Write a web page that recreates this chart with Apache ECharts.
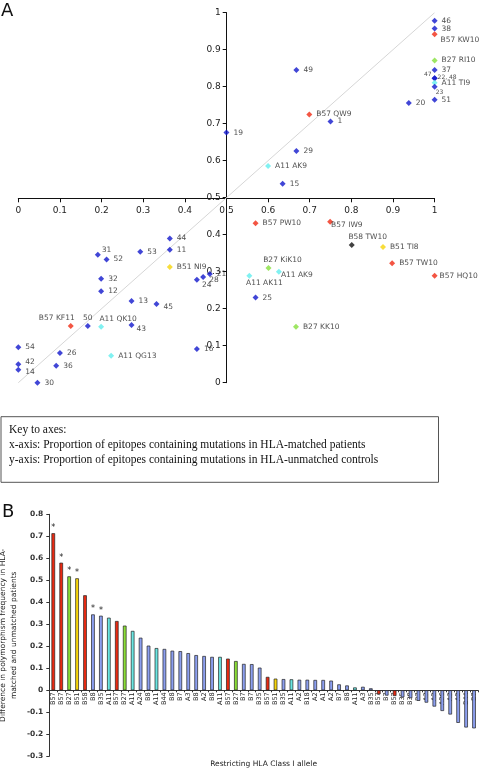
<!DOCTYPE html>
<html>
<head>
<meta charset="utf-8">
<script src="https://cdn.jsdelivr.net/npm/echarts@6/dist/echarts.min.js"></script>
<style>
html,body{margin:0;padding:0;background:#fff;}
#chart{width:480px;height:769px;}
</style>
</head>
<body>
<div id="chart"></div>
<script>
// ---------- Panel A data ----------
const scatterNames = ['46','38','B57 KW10','B27 RI10','37','47','22, 48','A11 TI9','23','51','20','49','B57 QW9','1','29','A11 AK9','15','19',
  '44','11','53','31','52','B51 NI9','32','12','24','28','21','13','45','B57 KF11','50','A11 QK10','43','54','26','42','14','36','30','A11 QG13','16',
  'B57 PW10','B57 IW9','B58 TW10','B51 TI8','B57 TW10','B57 HQ10','B27 KiK10','A11 AK9','A11 AK11','25','B27 KK10'];
const scatterX = [1.0,1.0,1.0,1.0,1.0,1.0,1.0,1.0,1.0,1.0,0.938,0.668,0.699,0.75,0.668,0.6,0.635,0.5,
  0.364,0.364,0.293,0.191,0.212,0.364,0.199,0.199,0.429,0.444,0.46,0.272,0.332,0.126,0.167,0.199,0.272,0,0.1,0,0,0.091,0.046,0.223,0.429,
  0.57,0.749,0.801,0.876,0.898,1.0,0.601,0.626,0.555,0.57,0.667];
const scatterY = [0.978,0.957,0.942,0.871,0.845,0.823,0.823,0.811,0.8,0.765,0.756,0.845,0.725,0.706,0.626,0.586,0.538,0.676,
  0.39,0.359,0.354,0.346,0.333,0.313,0.281,0.247,0.278,0.286,0.294,0.221,0.213,0.153,0.153,0.151,0.156,0.096,0.08,0.05,0.035,0.046,0,0.073,0.091,
  0.431,0.435,0.372,0.367,0.323,0.289,0.31,0.3,0.289,0.23,0.151];
const axisTicksA = [0,0.1,0.2,0.3,0.4,0.5,0.6,0.7,0.8,0.9,1];

// ---------- Panel B data ----------
const barAlleles = ['B57','B57','B27','B51','B58','B8','B35','A11','B57','B27','A11','A24','B8','A11','B44','B8','B7','A3','B8','A2','B8','A11','B57','B27','B7','B7','B35','B57','B51','B35','A11','A2','B18','A2','A1','A2','B7','B8','A11','A3','B35','B57','B7','B57','B35','B38','B7','A3','A2','A26','A3','A2','B44','B7'];
const barValues = [0.714,0.58,0.518,0.509,0.432,0.345,0.339,0.33,0.315,0.294,0.27,0.239,0.203,0.192,0.188,0.18,0.178,0.169,0.16,0.156,0.152,0.152,0.144,0.133,0.12,0.119,0.103,0.061,0.053,0.051,0.05,0.048,0.048,0.047,0.047,0.044,0.027,0.022,0.013,0.016,0.009,-0.018,-0.024,-0.026,-0.032,-0.036,-0.048,-0.056,-0.074,-0.094,-0.11,-0.148,-0.169,-0.173];
const starredBars = [0,1,2,3,5,6];
const barYMin = -0.3, barYMax = 0.8;

// ---------- styling helpers ----------
const FONT = 'DejaVu Sans';
function scatterColor(n){
  if(n.startsWith('B57')) return '#f02a14';
  if(n.startsWith('B27')) return '#86e03c';
  if(n.startsWith('A11')) return '#62eeee';
  if(n.startsWith('B51')) return '#f6d40a';
  if(n.startsWith('B58')) return '#111111';
  return '#1218cc';
}
function barColor(a){
  if(a==='B57'||a==='B58') return '#ea2a12';
  if(a==='B27') return '#8ade36';
  if(a==='B51') return '#f7d60a';
  if(a==='A11') return '#6ae6e2';
  return '#8c9ff0';
}
function placement(n, y){
  const m = {
    '47': {position:'left', distance:0, offset:[0,-4], fontSize:6},
    '22, 48': {position:'right', distance:0, offset:[0,-1], fontSize:6},
    '23': {position:'bottom', distance:0, offset:[5,0], fontSize:6},
    'B57 KW10': {offset:[-1,6]},
    '31': {offset:[-3,-5]},
    '24': {offset:[-2,5]},
    '28': {offset:[-1,3]},
    '45': {offset:[0,3]},
    'B57 KF11': {position:'top', distance:1, offset:[-14,0]},
    '50': {position:'top', distance:1},
    'A11 QK10': {position:'top', distance:1, offset:[17,0]},
    '43': {offset:[-2,4]},
    'B58 TW10': {position:'top', distance:1, offset:[16,0]},
    'B57 IW9': {offset:[-6,3]},
    'B27 KiK10': {position:'top', distance:1, offset:[14,0]},
    'A11 AK11': {position:'bottom', distance:0, offset:[15,0]},
    'B57 HQ10': {distance:2},
    '42': {offset:[0,-2]},
    '14': {offset:[0,2]}
  };
  if(n==='A11 AK9' && y<0.5) return {offset:[-5,3]};
  return m[n] || {};
}
const scatterData = scatterNames.map((n,i)=>{
  const p = placement(n, scatterY[i]);
  return {
    name:n, value:[scatterX[i], scatterY[i]],
    itemStyle:{color:scatterColor(n)},
    label:Object.assign({show:true, formatter:n, position:'right', distance:4, fontSize:7.5, color:'#222', fontFamily:FONT}, p)
  };
});
const fmt = v => String(Number(v.toFixed(1)));

// bar grid geometry: top at 0.8, bottom at -0.3; the category axis sits in a second grid ending at the zero line
const barTop = 514.3, barH = 242;
const pxPerUnit = barH / (barYMax - barYMin);
const zeroY = barTop + pxPerUnit * barYMax;
// label-only value axis reaching one step further down, so -0.3 is not its end label
const labelAxisMin = barYMin - 0.1;
const labelAxisH = pxPerUnit * (barYMax - labelAxisMin);
const fmtBar = v => v < barYMin - 0.05 ? '' : fmt(v);

const chart = echarts.init(document.getElementById('chart'), null, {renderer:'canvas'});
const axisLineA = {lineStyle:{color:'#111', width:1}};
chart.setOption({
  animation:false,
  backgroundColor:'#fff',
  textStyle:{fontFamily:FONT},
  grid:[
    {left:18.3, top:12.7, width:416.3, height:370, outerBoundsMode:'none', containLabel:false},
    {left:18.3, top:12.7, width:416.3, height:185.6, outerBoundsMode:'none', containLabel:false},
    {left:226.7, top:12.7, width:208, height:370, outerBoundsMode:'none', containLabel:false},
    {left:49.3, top:barTop, width:428.7, height:barH, outerBoundsMode:'none', containLabel:false},
    {left:49.3, top:barTop, width:428.7, height:zeroY-barTop, outerBoundsMode:'none', containLabel:false},
    {left:49.3, top:barTop, width:428.7, height:labelAxisH, outerBoundsMode:'none', containLabel:false}
  ],
  xAxis:[
    {gridIndex:0, type:'value', min:0, max:1, show:false},
    {gridIndex:1, type:'value', min:axisTicksA[0], max:axisTicksA[axisTicksA.length-1], interval:0.1, position:'bottom',
      axisLine:Object.assign({show:true,onZero:false},axisLineA), axisTick:{show:true,length:4,lineStyle:{color:'#111'}},
      splitLine:{show:false}, axisLabel:{fontSize:9, color:'#222', margin:8, formatter:fmt, fontFamily:FONT, showMinLabel:true, showMaxLabel:true}},
    {gridIndex:2, type:'value', min:0, max:1, show:false},
    {gridIndex:3, type:'category', data:barAlleles, show:false},
    {gridIndex:4, type:'category', data:barAlleles, position:'bottom',
      axisLine:{show:true, onZero:false, lineStyle:{color:'#333'}}, axisTick:{show:true, length:2, lineStyle:{color:'#333'}},
      axisLabel:{interval:0, rotate:90, fontSize:6.5, color:'#222', margin:2, fontFamily:FONT}},
    {gridIndex:5, type:'value', min:0, max:1, show:false}
  ],
  yAxis:[
    {gridIndex:0, type:'value', min:0, max:1, show:false},
    {gridIndex:1, type:'value', min:0, max:1, show:false},
    {gridIndex:2, type:'value', min:axisTicksA[0], max:axisTicksA[axisTicksA.length-1], interval:0.1, position:'left',
      axisLine:Object.assign({show:true,onZero:false},axisLineA), axisTick:{show:true,length:4,lineStyle:{color:'#111'}},
      splitLine:{show:false}, axisLabel:{fontSize:9, color:'#222', margin:6, formatter:fmt, fontFamily:FONT, showMinLabel:true, showMaxLabel:true}},
    {gridIndex:3, type:'value', min:barYMin, max:barYMax, interval:0.1,
      axisLine:{show:true, onZero:false, lineStyle:{color:'#333'}}, axisTick:{show:true, length:3, lineStyle:{color:'#333'}},
      splitLine:{show:false}, axisLabel:{show:false},
      name:'Difference in polymorphism frequency in HLA-\nmatched and unmatched patients', nameLocation:'middle', nameRotate:90, nameGap:30, nameMoveOverlap:false,
      nameTextStyle:{fontSize:7.5, color:'#222', lineHeight:11, fontFamily:FONT}},
    {gridIndex:4, type:'value', min:0, max:1, show:false},
    {gridIndex:5, type:'value', min:labelAxisMin, max:barYMax, interval:0.1,
      axisLine:{show:false, onZero:false}, axisTick:{show:false}, splitLine:{show:false},
      axisLabel:{fontSize:7.5, fontWeight:'bold', color:'#333', margin:6, formatter:fmtBar, fontFamily:FONT, showMinLabel:true, showMaxLabel:true, hideOverlap:false}}
  ],
  series:[
    {type:'line', xAxisIndex:0, yAxisIndex:0, data:[[0,0],[1,1]], symbol:'none', silent:true,
      lineStyle:{color:'#d6d6d6', width:1}, z:1},
    {type:'scatter', xAxisIndex:0, yAxisIndex:0, symbol:'diamond', symbolSize:6, clip:false, data:scatterData, z:3},
    {type:'bar', xAxisIndex:3, yAxisIndex:3, barWidth:3.6,
      data:barValues.map((v,i)=>({value:v, itemStyle:{color:barColor(barAlleles[i]), borderColor:'#222', borderWidth:0.7}})),
      label:{show:true, position:'top', distance:1, fontSize:8, color:'#222',
        formatter:p=>starredBars.indexOf(p.dataIndex)>=0?'*':''}}
  ],
  graphic:[
    {type:'text', left:1, top:2, style:{text:'A', fontSize:18, fontFamily:FONT, fill:'#111'}},
    {type:'text', left:2, top:503, style:{text:'B', fontSize:18, fontFamily:FONT, fill:'#111'}},
    {type:'text', x:263.6, y:764, style:{text:'Restricting HLA Class I allele', fontSize:7.5, fontFamily:FONT, fill:'#222', align:'center', verticalAlign:'middle'}},
    {type:'rect', shape:{x:1, y:416.7, width:437.5, height:65.6}, style:{fill:'none', stroke:'#555', lineWidth:1}},
    {type:'text', x:9, y:422, style:{text:'Key to axes:\nx-axis: Proportion of epitopes containing mutations in HLA-matched patients\ny-axis: Proportion of epitopes containing mutations in HLA-unmatched controls',
      fontSize:11.5, lineHeight:15, fontFamily:'Liberation Serif', fill:'#111'}}
  ]
});
</script>
</body>
</html>
